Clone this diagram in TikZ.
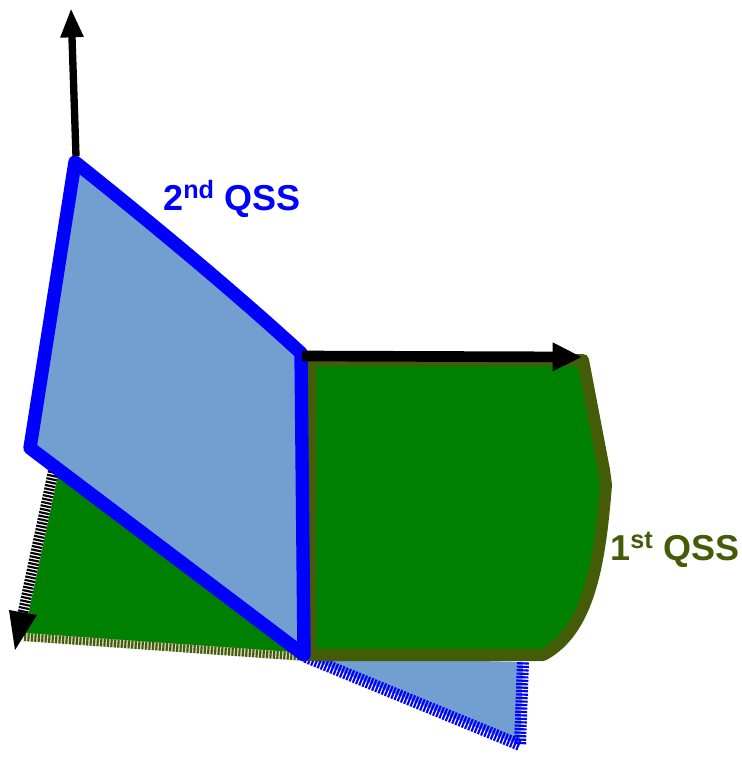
\documentclass[tikz,border=0pt]{standalone}
\usepackage{fontspec}
\setmainfont{Liberation Sans}
\usetikzlibrary{arrows.meta,calc}
\definecolor{skyb}{RGB}{114,159,207}
\definecolor{qgreen}{RGB}{0,128,0}
\definecolor{olive2}{RGB}{68,92,8}
\definecolor{pblue}{RGB}{0,0,255}
\tikzset{
  hatchblue/.style={draw=pblue,line width=9pt,dash pattern=on 1.6pt off 1pt},
  hatcholive/.style={draw=olive2,line width=6pt,dash pattern=on 1.6pt off 1pt},
  hatchblack/.style={draw=black,line width=8pt,dash pattern=on 1.6pt off 1pt},
  axis/.style={draw=black,line width=5.5pt},
  qsslabel/.style={font=\bfseries\fontsize{27}{30}\selectfont,inner sep=0pt}
}
\begin{document}
\begin{tikzpicture}[x=0.75pt,y=-0.75pt]
\useasboundingbox (0,0) rectangle (742,760);
% key points
\coordinate (O) at (306,657);
\coordinate (B1) at (520,745);
\coordinate (B2) at (523,662);
\coordinate (G1) at (52,472);
\coordinate (G2) at (24,637);
\coordinate (P1) at (75,162);
\coordinate (P2) at (301,353);
\coordinate (P4) at (30,448);
% lower blue triangle
\fill[skyb] (O) -- (B1) -- (B2) -- cycle;
\draw[hatchblue] (O) -- (B1) -- (B2);
% left green triangle
\fill[qgreen] (G1) -- (G2) -- (O) -- cycle;
\draw[draw=white!80!olive2,line width=6pt] (G2) -- (O);
\draw[hatcholive] (G2) -- (O);
% down-left axis
\coordinate (DL0) at (54,468);
\coordinate (DL1) at (15,650);
\coordinate (DLm) at ($(DL0)!0.8!(DL1)$);
\draw[draw=white,line width=8pt] (DL0) -- (DLm);
\draw[hatchblack] (DL0) -- (DLm);
\fill[black] (DL1) -- (9,610) -- (37,615) -- cycle;
% right green (1st QSS)
\draw[olive2,fill=qgreen,line width=9pt,line join=round]
  (310,360) -- (583,360) -- (604,470) -- (606,485)
  .. controls (600,560) and (590,630) .. (543,655) -- (310,655) -- cycle;
% blue polygon (2nd QSS)
\draw[pblue,fill=skyb,line width=10pt,line join=round]
  (P1) .. controls (150,222) and (230,288) .. (P2) -- (304,655) -- (P4) -- cycle;
% axes
\coordinate (V0) at (76,156);
\coordinate (V1) at (71,8);
\draw[axis,-{Triangle[length=22pt,width=16pt]}] (V0) -- (V1);
\coordinate (H0) at (302,356);
\coordinate (H1) at (582,357);
\draw[draw=black,line width=8pt,-{Triangle[length=22pt,width=20pt]}] (H0) -- (H1);
% labels
\node[qsslabel,text=pblue,anchor=west] (l2) at (163,199) {2\textsuperscript{nd} QSS};
\node[qsslabel,text=olive2,anchor=west] (l1) at (610,550) {1\textsuperscript{st} QSS};
\end{tikzpicture}
\end{document}
